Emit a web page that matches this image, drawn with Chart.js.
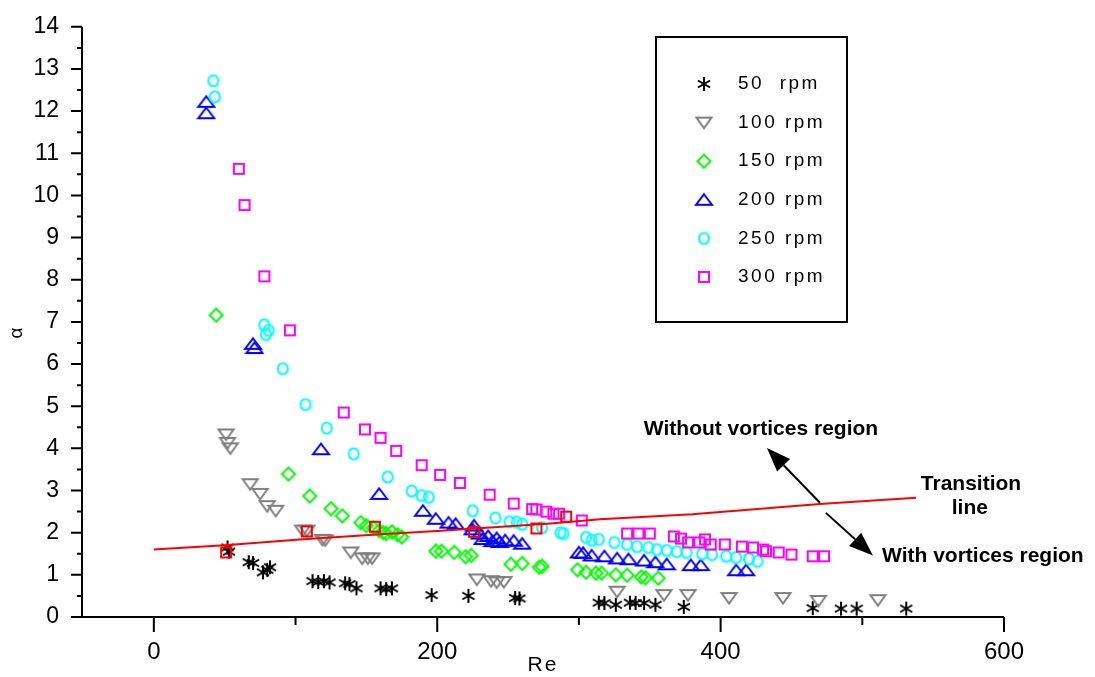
<!DOCTYPE html>
<html>
<head>
<meta charset="utf-8">
<script src="https://cdn.jsdelivr.net/npm/chart.js@4.4.1/dist/chart.umd.min.js"></script>
<style>
  html, body { margin: 0; padding: 0; background: #fff; }
  #wrap { width: 1095px; height: 677px; position: relative; }
</style>
</head>
<body>
<div id="wrap"><canvas id="chart"></canvas></div>
<script>
// Re / alpha readings per rotation speed
const re50 = [52, 53, 67, 70, 77, 80, 82, 112, 116, 120, 124, 135, 138, 143, 160, 164, 168, 196, 222, 255, 258, 314, 318, 326, 336, 340, 346, 354, 374, 465, 485, 496, 531];
const alpha50 = [1.65, 1.55, 1.30, 1.28, 1.06, 1.12, 1.18, 0.85, 0.83, 0.85, 0.82, 0.80, 0.78, 0.68, 0.68, 0.66, 0.68, 0.52, 0.50, 0.45, 0.44, 0.34, 0.33, 0.29, 0.34, 0.33, 0.33, 0.29, 0.24, 0.21, 0.20, 0.20, 0.20];

const re100 = [51, 52, 54, 68, 75, 80, 86, 105, 108, 119, 121, 139, 147, 151, 154, 228, 238, 242, 247, 327, 360, 377, 406, 444, 469, 511];
const alpha100 = [4.33, 4.13, 4.00, 3.15, 2.92, 2.63, 2.52, 2.05, 2.05, 1.83, 1.82, 1.53, 1.39, 1.39, 1.39, 0.89, 0.85, 0.82, 0.83, 0.60, 0.52, 0.52, 0.45, 0.45, 0.38, 0.40];

const re150 = [44, 95, 110, 125, 133, 146, 150, 155, 159, 162, 164, 168, 172, 175, 199, 203, 212, 220, 224, 252, 260, 272, 274, 299, 305, 312, 316, 326, 334, 344, 347, 356];
const alpha150 = [7.16, 3.39, 2.87, 2.57, 2.40, 2.24, 2.17, 2.12, 2.05, 2.00, 1.98, 2.02, 1.95, 1.90, 1.56, 1.56, 1.53, 1.43, 1.46, 1.25, 1.27, 1.18, 1.20, 1.12, 1.06, 1.04, 1.04, 1.00, 0.99, 0.95, 0.93, 0.92];

const re200 = [37, 37, 70, 71, 118, 159, 190, 199, 208, 213, 226, 225, 230, 232, 236, 239, 242, 244, 248, 254, 260, 300, 303, 309, 318, 327, 335, 346, 354, 362, 379, 386, 411, 418];
const alpha200 = [12.22, 11.95, 6.48, 6.38, 3.98, 2.92, 2.52, 2.33, 2.24, 2.21, 2.17, 2.08, 1.98, 1.85, 1.92, 1.80, 1.87, 1.78, 1.82, 1.81, 1.74, 1.53, 1.52, 1.46, 1.44, 1.39, 1.37, 1.34, 1.30, 1.25, 1.23, 1.23, 1.11, 1.11];

const re250 = [42, 43, 78, 81, 79, 91, 107, 122, 141, 165, 182, 189, 194, 225, 241, 251, 256, 260, 274, 287, 289, 305, 309, 314, 325, 334, 341, 349, 355, 362, 369, 376, 387, 394, 404, 411, 420, 426];
const alpha250 = [12.72, 12.34, 6.93, 6.80, 6.70, 5.89, 5.04, 4.48, 3.87, 3.32, 2.99, 2.88, 2.84, 2.52, 2.35, 2.26, 2.25, 2.20, 2.12, 2.00, 1.98, 1.89, 1.82, 1.84, 1.77, 1.72, 1.67, 1.65, 1.60, 1.58, 1.55, 1.53, 1.50, 1.48, 1.44, 1.41, 1.38, 1.32];

const re300 = [60, 64, 78, 96, 134, 149, 160, 171, 189, 202, 216, 237, 254, 267, 270, 277, 282, 286, 302, 334, 342, 350, 367, 372, 377, 385, 389, 393, 403, 415, 423, 430, 432, 441, 450, 465, 473];
const alpha300 = [10.63, 9.77, 8.08, 6.80, 4.85, 4.45, 4.25, 3.94, 3.60, 3.37, 3.18, 2.90, 2.69, 2.56, 2.55, 2.50, 2.45, 2.45, 2.29, 1.98, 1.98, 1.98, 1.91, 1.86, 1.77, 1.77, 1.84, 1.72, 1.72, 1.67, 1.65, 1.60, 1.56, 1.53, 1.48, 1.44, 1.44];

// transition points (red squares) and the transition line
const reTrans = [51, 108, 156, 226, 270, 291];
const alphaTrans = [1.53, 2.03, 2.14, 2.02, 2.10, 2.38];
const reLine = [0, 50, 103, 160, 200, 280, 315, 380, 470, 538];
const alphaLine = [1.60, 1.70, 1.84, 1.96, 2.04, 2.22, 2.32, 2.44, 2.68, 2.83];

const seriesLabels = ['50  rpm', '100 rpm', '150 rpm', '200 rpm', '250 rpm', '300 rpm'];

const xTicks = [0, 200, 400, 600];
const xMinorTicks = [100, 300, 500];
const yTicks = [0, 1, 2, 3, 4, 5, 6, 7, 8, 9, 10, 11, 12, 13, 14];

Chart.defaults.font.family = '"Liberation Sans", Arial, sans-serif';
Chart.defaults.color = '#000';

// little canvases used as point symbols
function marker(w, h, draw) {
    const c = document.createElement('canvas');
    c.width = w;
    c.height = h;
    const ctx = c.getContext('2d');
    ctx.lineWidth = 2;
    ctx.lineJoin = 'miter';
    draw(ctx);
    return c;
}

const starMark = marker(18, 18, ctx => {
    ctx.strokeStyle = '#000';
    ctx.lineWidth = 2;
    ctx.beginPath();
    for (let k = 0; k < 3; k++) {
        const a = Math.PI / 2 + k * Math.PI / 3;
        const dx = Math.cos(a) * 7, dy = Math.sin(a) * 7;
        ctx.moveTo(9 - dx, 9 - dy);
        ctx.lineTo(9 + dx, 9 + dy);
    }
    ctx.stroke();
});
const downMark = marker(20, 16, ctx => {
    ctx.strokeStyle = '#808080';
    ctx.beginPath();
    ctx.moveTo(2.5, 3); ctx.lineTo(17.5, 3); ctx.lineTo(10, 13.5); ctx.closePath();
    ctx.stroke();
});
const diamondMark = marker(16, 16, ctx => {
    ctx.strokeStyle = '#00ff00';
    ctx.beginPath();
    ctx.moveTo(8, 1.5); ctx.lineTo(14.5, 8); ctx.lineTo(8, 14.5); ctx.lineTo(1.5, 8); ctx.closePath();
    ctx.stroke();
});
const upMark = marker(20, 16, ctx => {
    ctx.strokeStyle = '#0000ff';
    ctx.beginPath();
    ctx.moveTo(10, 2.5); ctx.lineTo(18, 13); ctx.lineTo(2, 13); ctx.closePath();
    ctx.stroke();
});
const circleMark = marker(14, 16, ctx => {
    ctx.strokeStyle = '#00ffff';
    ctx.beginPath();
    ctx.ellipse(7, 8, 5, 5.6, 0, 0, Math.PI * 2);
    ctx.stroke();
});
function squareMark(color) {
    return marker(14, 14, ctx => {
        ctx.strokeStyle = color;
        ctx.strokeRect(2, 2, 10, 10);
    });
}
const magentaSquare = squareMark('#ff00ff');
const redSquare = squareMark('#ff0000');

const seriesMarks = [starMark, downMark, diamondMark, upMark, circleMark, magentaSquare];

function series(label, xs, ys, mark, order) {
    return {
        label: label,
        data: xs.map((x, i) => ({ x: x, y: ys[i] })),
        pointStyle: mark,
        pointRadius: 6,
        order: order,
        clip: false
    };
}

const datasets = [
    series('transition points', reTrans, alphaTrans, redSquare, 0),
    {
        label: 'Transition line',
        data: reLine.map((x, i) => ({ x: x, y: alphaLine[i] })),
        showLine: true,
        borderColor: '#ff0000',
        borderWidth: 2,
        pointRadius: 0,
        tension: 0,
        order: 1
    },
    series(seriesLabels[5], re300, alpha300, magentaSquare, 2),
    series(seriesLabels[4], re250, alpha250, circleMark, 3),
    series(seriesLabels[3], re200, alpha200, upMark, 4),
    series(seriesLabels[2], re150, alpha150, diamondMark, 5),
    series(seriesLabels[1], re100, alpha100, downMark, 6),
    series(seriesLabels[0], re50, alpha50, starMark, 7)
];

// axis lines and major / minor tick marks
const axesPlugin = {
    id: 'axesPlugin',
    beforeDatasetsDraw(chart) {
        const { ctx, chartArea, scales } = chart;
        const left = chartArea.left - 1;
        const bottom = chartArea.bottom;
        ctx.save();
        ctx.strokeStyle = '#000';
        ctx.lineWidth = 2;
        ctx.beginPath();
        ctx.moveTo(left, chartArea.top);
        ctx.lineTo(left, bottom);
        ctx.lineTo(chartArea.right, bottom);
        yTicks.forEach(v => {
            const y = scales.y.getPixelForValue(v);
            ctx.moveTo(left - 11, y);
            ctx.lineTo(left, y);
            if (v < 14) {
                const ym = scales.y.getPixelForValue(v + 0.5);
                ctx.moveTo(left - 5, ym);
                ctx.lineTo(left, ym);
            }
        });
        xTicks.forEach(v => {
            const x = scales.x.getPixelForValue(v);
            ctx.moveTo(x, bottom);
            ctx.lineTo(x, bottom + 15);
        });
        xMinorTicks.forEach(v => {
            const x = scales.x.getPixelForValue(v);
            ctx.moveTo(x, bottom);
            ctx.lineTo(x, bottom + 8);
        });
        ctx.stroke();
        ctx.restore();
    }
};

function arrow(ctx, x0, y0, x1, y1) {
    const ang = Math.atan2(y1 - y0, x1 - x0);
    const len = 24, half = 9;
    const bx = x1 - Math.cos(ang) * len, by = y1 - Math.sin(ang) * len;
    ctx.beginPath();
    ctx.moveTo(x0, y0);
    ctx.lineTo(bx, by);
    ctx.stroke();
    ctx.beginPath();
    ctx.moveTo(x1, y1);
    ctx.lineTo(bx + Math.sin(ang) * half, by - Math.cos(ang) * half);
    ctx.lineTo(bx - Math.sin(ang) * half, by + Math.cos(ang) * half);
    ctx.closePath();
    ctx.fill();
}

// legend box, axis titles and region notes
const notesPlugin = {
    id: 'notesPlugin',
    afterDraw(chart) {
        const { ctx, scales } = chart;
        const px = v => scales.x.getPixelForValue(v);
        const py = v => scales.y.getPixelForValue(v);
        ctx.save();
        ctx.fillStyle = '#000';
        ctx.strokeStyle = '#000';

        // legend
        ctx.lineWidth = 2;
        ctx.strokeRect(656, 37, 191, 285);
        ctx.font = '19px "Liberation Sans", Arial, sans-serif';
        ctx.textBaseline = 'middle';
        ctx.textAlign = 'left';
        ctx.letterSpacing = '2.5px';
        seriesLabels.forEach((lab, i) => {
            const y = 84 + i * 38.6;
            const m = seriesMarks[i];
            ctx.drawImage(m, 704 - m.width / 2, y - m.height / 2);
            ctx.fillText(lab, 738, y);
        });

        // axis titles
        ctx.letterSpacing = '2px';
        ctx.font = '21px "Liberation Sans", Arial, sans-serif';
        ctx.textAlign = 'center';
        ctx.fillText('Re', 543, 665);
        ctx.letterSpacing = '0px';
        ctx.save();
        ctx.translate(17, 333);
        ctx.rotate(-Math.PI / 2);
        ctx.font = '19px "Liberation Sans", Arial, sans-serif';
        ctx.fillText('α', 0, 0);
        ctx.restore();

        // region notes
        ctx.font = 'bold 21px "Liberation Sans", Arial, sans-serif';
        ctx.textAlign = 'center';
        ctx.fillText('Without vortices region', px(428.5), py(4.45));
        ctx.fillText('Transition', px(576.7), py(3.16));
        ctx.fillText('line', px(575.9), py(2.59));
        ctx.textAlign = 'left';
        ctx.fillText('With vortices region', px(513.9), py(1.44));

        ctx.lineWidth = 2;
        arrow(ctx, px(470.1), py(2.71), px(432.7), py(4.01));
        arrow(ctx, px(474.3), py(2.47), px(507.5), py(1.46));
        ctx.restore();
    }
};

new Chart(document.getElementById('chart'), {
    type: 'scatter',
    data: { datasets: datasets },
    options: {
        responsive: true,
        maintainAspectRatio: false,
        animation: false,
        layout: { padding: { left: 0, right: 91, top: 23, bottom: 0 } },
        plugins: {
            legend: { display: false },
            tooltip: { enabled: false }
        },
        scales: {
            x: {
                type: 'linear',
                min: -50,
                max: 600,
                afterBuildTicks: s => { s.ticks = xTicks.map(v => ({ value: v })); },
                afterFit: s => { s.height = 60; },
                grid: { display: false, drawTicks: true, tickLength: 14 },
                border: { display: false },
                ticks: { padding: 7, maxRotation: 0, color: '#000', font: { size: 24 } }
            },
            y: {
                type: 'linear',
                min: 0,
                max: 14,
                afterBuildTicks: s => { s.ticks = yTicks.map(v => ({ value: v })); },
                afterFit: s => { s.width = 83; },
                grid: { display: false, drawTicks: true, tickLength: 11 },
                border: { display: false },
                ticks: { padding: 13, color: '#000', font: { size: 23 } }
            }
        }
    },
    plugins: [axesPlugin, notesPlugin]
});
</script>
</body>
</html>
